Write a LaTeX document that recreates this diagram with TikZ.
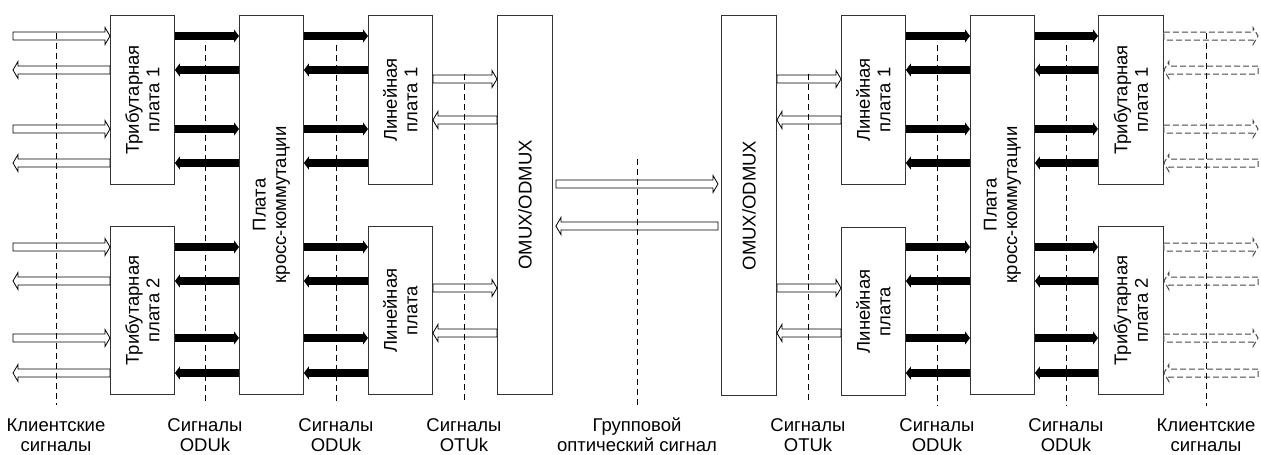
\documentclass[tikz,border=0pt]{standalone}
\usepackage{fontspec}
\setmainfont{Liberation Sans}
\usetikzlibrary{calc,arrows.meta}
\newcommand\oarr[3][]{%
  \draw[oarrow,#1] let \p1=(#2), \p2=(#3), \n1={2*(\x2>\x1)-1} in
    (\x1,\y1+4pt) -- ({\x2-\n1*5pt},\y2+4pt) -- ({\x2-\n1*5pt},\y2+8.5pt) -- (\x2,\y2)
    -- ({\x2-\n1*5pt},\y2-8.5pt) -- ({\x2-\n1*5pt},\y2-4pt) -- (\x1,\y1-4pt) -- cycle;}
\newcommand\lbl[2]{\begin{tabular}[t]{@{}c@{}}#1\\#2\end{tabular}}
\begin{document}
\begin{tikzpicture}[x=1pt,y=-1pt,
  box/.style={draw=black!80, line width=0.9pt, fill=white, inner sep=0pt, anchor=north west},
  boxtxt/.style={rotate=90, align=center, inner sep=0pt, font=\fontsize{18.5}{20.5}\selectfont},
  thk/.style={line width=7.8pt, -{Triangle[length=5pt,width=13pt]}},
  oarrow/.style={draw=black, line width=0.8pt, fill=white, line join=miter},
  darrow/.style={draw=black!72, line width=1pt, dash pattern=on 6pt off 3pt},
  vdash/.style={draw=black, line width=0.8pt, dash pattern=on 6pt off 4pt},
  lab/.style={anchor=base, inner sep=0pt, font=\fontsize{18.5}{20.5}\selectfont}]
\useasboundingbox (0,0) rectangle (1261,455);
% rows
\coordinate (r1) at (0,36);  \coordinate (r2) at (0,70);
\coordinate (r3) at (0,129); \coordinate (r4) at (0,163);
\coordinate (s1) at (0,247); \coordinate (s2) at (0,281);
\coordinate (s3) at (0,338); \coordinate (s4) at (0,373);
\coordinate (o1) at (0,79);  \coordinate (o2) at (0,120);
\coordinate (o3) at (0,288); \coordinate (o4) at (0,333);
\coordinate (m1) at (0,184); \coordinate (m2) at (0,226);
\coordinate (xl) at (13,0);  \coordinate (xr) at (1258,0);
% boxes left
\node[box, minimum width=64pt, minimum height=169pt] (tL1) at (110,15) {};
\node[box, minimum width=64pt, minimum height=168pt] (tL2) at (110,226) {};
\node[box, minimum width=64pt, minimum height=379pt] (cL) at (239,15) {};
\node[box, minimum width=64pt, minimum height=169pt] (lL1) at (368,15) {};
\node[box, minimum width=64pt, minimum height=168pt] (lL2) at (368,226) {};
\node[box, minimum width=55pt, minimum height=379pt] (oL) at (497,15) {};
% boxes right
\node[box, minimum width=55pt, minimum height=380pt] (oR) at (721,15) {};
\node[box, minimum width=64pt, minimum height=169pt] (lR1) at (841,15) {};
\node[box, minimum width=64pt, minimum height=168pt] (lR2) at (841,227) {};
\node[box, minimum width=64pt, minimum height=379pt] (cR) at (970,15) {};
\node[box, minimum width=65pt, minimum height=169pt] (tR1) at (1098,15) {};
\node[box, minimum width=65pt, minimum height=168pt] (tR2) at (1098,226) {};
% box texts
\node[boxtxt] (ttL1) at (tL1.center) {Трибутарная\\плата 1};
\node[boxtxt] (ttL2) at (tL2.center) {Трибутарная\\плата 2};
\node[boxtxt] (tcL) at (cL.center) {Плата\\кросс-коммутации};
\node[boxtxt] (tlL1) at (lL1.center) {Линейная\\плата 1};
\node[boxtxt] (tlL2) at (lL2.center) {Линейная\\плата};
\node[boxtxt] (toL) at (oL.center) {OMUX/ODMUX};
\node[boxtxt] (toR) at (oR.center) {OMUX/ODMUX};
\node[boxtxt] (tlR1) at (lR1.center) {Линейная\\плата 1};
\node[boxtxt] (tlR2) at (lR2.center) {Линейная\\плата};
\node[boxtxt] (tcR) at (cR.center) {Плата\\кросс-коммутации};
\node[boxtxt] (ttR1) at (tR1.center) {Трибутарная\\плата 1};
\node[boxtxt] (ttR2) at (tR2.center) {Трибутарная\\плата 2};
% thick arrows left
\foreach \a/\b in {r1/r2, r3/r4} {
  \draw[thk] (tL1.east |- \a) -- (cL.west |- \a);
  \draw[thk] (cL.west |- \b) -- (tL1.east |- \b);
  \draw[thk] (cL.east |- \a) -- (lL1.west |- \a);
  \draw[thk] (lL1.west |- \b) -- (cL.east |- \b);
}
\foreach \a/\b in {s1/s2, s3/s4} {
  \draw[thk] (tL2.east |- \a) -- (cL.west |- \a);
  \draw[thk] (cL.west |- \b) -- (tL2.east |- \b);
  \draw[thk] (cL.east |- \a) -- (lL2.west |- \a);
  \draw[thk] (lL2.west |- \b) -- (cL.east |- \b);
}
% thick arrows right
\foreach \a/\b in {r1/r2, r3/r4} {
  \draw[thk] (lR1.east |- \a) -- (cR.west |- \a);
  \draw[thk] (cR.west |- \b) -- (lR1.east |- \b);
  \draw[thk] (cR.east |- \a) -- (tR1.west |- \a);
  \draw[thk] (tR1.west |- \b) -- (cR.east |- \b);
}
\foreach \a/\b in {s1/s2, s3/s4} {
  \draw[thk] (lR2.east |- \a) -- (cR.west |- \a);
  \draw[thk] (cR.west |- \b) -- (lR2.east |- \b);
  \draw[thk] (cR.east |- \a) -- (tR2.west |- \a);
  \draw[thk] (tR2.west |- \b) -- (cR.east |- \b);
}
% open client arrows left
\foreach \a/\b in {r1/r2, r3/r4} {
  \oarr{xl |- \a}{tL1.west |- \a}
  \oarr{tL1.west |- \b}{xl |- \b}
}
\foreach \a/\b in {s1/s2, s3/s4} {
  \oarr{xl |- \a}{tL2.west |- \a}
  \oarr{tL2.west |- \b}{xl |- \b}
}
% dashed client arrows right
\foreach \a/\b in {r1/r2, r3/r4} {
  \oarr[darrow]{tR1.east |- \a}{xr |- \a}
  \oarr[darrow]{xr |- \b}{tR1.east |- \b}
}
\foreach \a/\b in {s1/s2, s3/s4} {
  \oarr[darrow]{tR2.east |- \a}{xr |- \a}
  \oarr[darrow]{xr |- \b}{tR2.east |- \b}
}
% OTUk arrows
\oarr{lL1.east |- o1}{oL.west |- o1}
\oarr{oL.west |- o2}{lL1.east |- o2}
\oarr{lL2.east |- o3}{oL.west |- o3}
\oarr{oL.west |- o4}{lL2.east |- o4}
\oarr{oR.east |- o1}{lR1.west |- o1}
\oarr{lR1.west |- o2}{oR.east |- o2}
\oarr{oR.east |- o3}{lR2.west |- o3}
\oarr{lR2.west |- o4}{oR.east |- o4}
% group optical signal
\coordinate (ma) at ($(oL.east |- m1)+(3,0)$);
\coordinate (mb) at ($(oR.west |- m1)+(-3,0)$);
\coordinate (mc) at ($(oR.west |- m2)+(-3,0)$);
\coordinate (md) at ($(oL.east |- m2)+(3,0)$);
\oarr{ma}{mb}
\oarr{mc}{md}
% dashed separators
\draw[vdash] (56,33) -- (56,405);
\draw[vdash] (205,45) -- (205,405);
\draw[vdash] (336,45) -- (336,405);
\draw[vdash] (464,74) -- (464,403);
\draw[vdash] (637,159) -- (637,406);
\draw[vdash] (808,74) -- (808,403);
\draw[vdash] (937,45) -- (937,406);
\draw[vdash] (1066,45) -- (1066,406);
\draw[vdash] (1206,33) -- (1206,406);
% bottom labels
\node[lab] (b1) at (56,431) {\lbl{Клиентские}{сигналы}};
\node[lab] (b2) at (205,431) {\lbl{Сигналы}{ODUk}};
\node[lab] (b3) at (336,431) {\lbl{Сигналы}{ODUk}};
\node[lab] (b4) at (464,431) {\lbl{Сигналы}{OTUk}};
\node[lab] (b5) at (637,431) {\lbl{Групповой}{оптический сигнал}};
\node[lab] (b6) at (808,431) {\lbl{Сигналы}{OTUk}};
\node[lab] (b7) at (937,431) {\lbl{Сигналы}{ODUk}};
\node[lab] (b8) at (1066,431) {\lbl{Сигналы}{ODUk}};
\node[lab] (b9) at (1206,431) {\lbl{Клиентские}{сигналы}};
\end{tikzpicture}
\end{document}
